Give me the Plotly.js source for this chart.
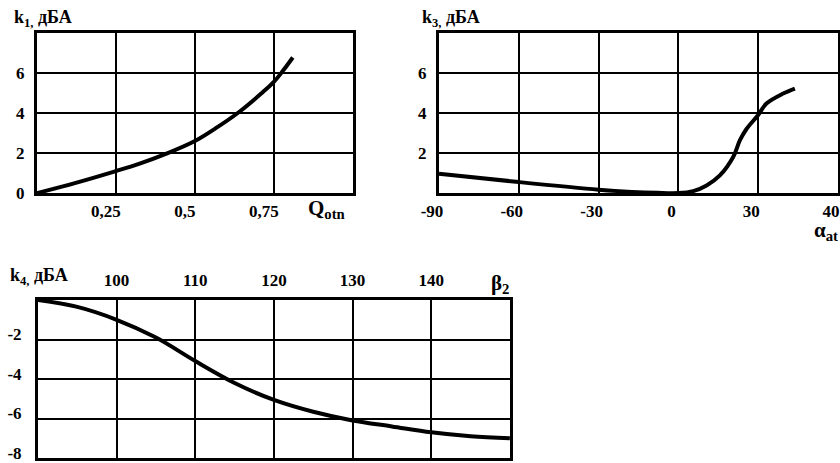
<!DOCTYPE html>
<html>
<head>
<meta charset="utf-8">
<script src="https://cdn.plot.ly/plotly-3.0.1.min.js"></script>
<style>html,body{margin:0;padding:0;background:#fff}#chart{width:840px;height:463px}</style>
</head>
<body>
<div id="chart"></div>
<script>
// Chart 1: k1 vs Q_otn
const qOtn = [0.0, 0.12, 0.25, 0.325, 0.41, 0.5, 0.57, 0.64, 0.71, 0.75, 0.78, 0.81];
const k1   = [0.0, 0.5, 1.1, 1.47, 1.97, 2.6, 3.28, 4.05, 4.97, 5.55, 6.13, 6.77];
const qTickVals = [0.25, 0.5, 0.75];
const qTickText = ['0,25', '0,5', '0,75'];

// Chart 2: k3 vs alpha_at (axis drawn with evenly spaced ticks as printed)
const alphaAt = [-90, -60, -30, -17.5, -8, 0, 5.6, 10.6, 15.6, 20.6, 23.1, 25.6, 30, 33.1, 39.4, 43.8];
const k3      = [0.97, 0.55, 0.17, 0.06, 0.01, 0.0, 0.1, 0.38, 0.88, 1.8, 2.63, 3.2, 3.9, 4.47, 4.97, 5.22];
const alphaTickVals = [-90, -60, -30, 0, 30, 60];
const alphaTickText = ['-90', '-60', '-30', '0', '30', '40'];

// Chart 3: k4 vs beta2
const beta2 = [90, 95, 100, 105, 110, 115, 120, 125, 130, 135, 140, 145, 150];
const k4    = [0.0, -0.35, -1.0, -1.9, -3.09, -4.2, -5.06, -5.66, -6.1, -6.4, -6.7, -6.9, -7.0];
const betaTickVals = [100, 110, 120, 130, 140];
const betaTickText = ['100', '110', '120', '130', '140'];

const kTickVals = [0, 2, 4, 6];
const kTickText = ['0', '2', '4', '6'];
const k3TickVals = [2, 4, 6];
const k3TickText = ['2', '4', '6'];
const k4TickVals = [-2, -4, -6, -8];
const k4TickText = ['-2', '-4', '-6', '-8'];

const FONT = 'Liberation Serif, Times New Roman, serif';
const tickFont = {family: FONT, size: 17, color: '#000'};
const bold = s => '<b>' + s + '</b>';

function axisBase(extra) {
  return Object.assign({
    showgrid: true, gridcolor: '#000', gridwidth: 2,
    showline: true, mirror: true, linecolor: '#000', linewidth: 3,
    zeroline: false, ticks: '', tickfont: tickFont, fixedrange: true,
    ticklabeloverflow: 'allow'
  }, extra);
}

const lineStyle = {color: '#000', width: 4, shape: 'spline', smoothing: 1};

const traces = [
  {x: qOtn, y: k1, mode: 'lines', line: lineStyle, xaxis: 'x', yaxis: 'y', hoverinfo: 'skip'},
  {x: alphaAt, y: k3, mode: 'lines', line: lineStyle, xaxis: 'x2', yaxis: 'y2', hoverinfo: 'skip'},
  {x: beta2, y: k4, mode: 'lines', line: lineStyle, xaxis: 'x3', yaxis: 'y3', hoverinfo: 'skip'}
];

const layout = {
  width: 840, height: 463,
  margin: {l: 0, r: 0, t: 0, b: 0},
  paper_bgcolor: '#fff', plot_bgcolor: '#fff',
  showlegend: false,
  font: {family: FONT, color: '#000'},
  xaxis: axisBase({domain: [0.044, 0.420], range: [0, 1], tickvals: qTickVals, ticktext: qTickText.map(bold),
                   anchor: 'y', ticklabelshift: -10, ticklabelstandoff: 1}),
  yaxis: axisBase({domain: [0.583, 0.929], range: [0, 8], tickvals: kTickVals, ticktext: kTickText.map(bold),
                   anchor: 'x', ticklabelstandoff: 6}),
  xaxis2: axisBase({domain: [0.5226, 0.9976], range: [-90, 60], tickvals: alphaTickVals, ticktext: alphaTickText.map(bold),
                    anchor: 'y2', ticklabelshift: -7, ticklabelstandoff: 1}),
  yaxis2: axisBase({domain: [0.583, 0.929], range: [0, 8], tickvals: k3TickVals, ticktext: k3TickText.map(bold),
                    anchor: 'x2', ticklabelstandoff: 6}),
  xaxis3: axisBase({domain: [0.0452, 0.607], range: [90, 150], tickvals: betaTickVals, ticktext: betaTickText.map(bold),
                    side: 'top', anchor: 'y3', ticklabelstandoff: 4}),
  yaxis3: axisBase({domain: [0.0108, 0.352], range: [-8, 0], tickvals: k4TickVals, ticktext: k4TickText.map(bold),
                    anchor: 'x3', ticklabelstandoff: 10, ticklabelshift: -5}),
  annotations: [
    {text: bold('k<sub>1,</sub> дБА'), xref: 'paper', yref: 'paper', x: 12/840, y: 1 - 18/463,
     xanchor: 'left', yanchor: 'middle', showarrow: false, font: {family: FONT, size: 18, color: '#000'}},
    {text: bold('k<sub>3,</sub> дБА'), xref: 'paper', yref: 'paper', x: 420/840, y: 1 - 18/463,
     xanchor: 'left', yanchor: 'middle', showarrow: false, font: {family: FONT, size: 18, color: '#000'}},
    {text: bold('k<sub>4,</sub> дБА'), xref: 'paper', yref: 'paper', x: 8/840, y: 1 - 276/463,
     xanchor: 'left', yanchor: 'middle', showarrow: false, font: {family: FONT, size: 18, color: '#000'}},
    {text: bold('Q<sub>otn</sub>'), xref: 'paper', yref: 'paper', x: 306/840, y: 1 - 209/463,
     xanchor: 'left', yanchor: 'middle', showarrow: false, font: {family: FONT, size: 21, color: '#000'}},
    {text: bold('α<sub>at</sub>'), xref: 'paper', yref: 'paper', x: 840/840, y: 1 - 231/463,
     xanchor: 'right', yanchor: 'middle', showarrow: false, font: {family: FONT, size: 21, color: '#000'}},
    {text: bold('β<sub>2</sub>'), xref: 'paper', yref: 'paper', x: 489/840, y: 1 - 284/463,
     xanchor: 'left', yanchor: 'middle', showarrow: false, font: {family: FONT, size: 21, color: '#000'}}
  ]
};

Plotly.newPlot('chart', traces, layout, {staticPlot: true, displayModeBar: false});
</script>
</body>
</html>
